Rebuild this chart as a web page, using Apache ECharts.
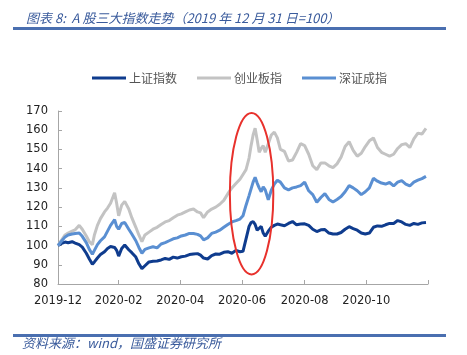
<!DOCTYPE html>
<html>
<head>
<meta charset="utf-8">
<script src="https://cdn.jsdelivr.net/npm/echarts@6/dist/echarts.min.js"></script>
<style>
html,body{margin:0;padding:0;background:#fff;}
#c{width:467px;height:355px;}
</style>
</head>
<body>
<div id="c"></div>
<script>
// days since 2019-12-31
const days = [0,3,7,10,14,17,21,24,28,31,34,36,39,42,46,49,52,56,58,60,63,66,70,73,77,80,83,86,90,94,98,102,106,110,114,118,122,126,130,134,138,141,144,148,152,156,160,164,168,172,176,180,183,186,189,191,193,195,197,199,201,203,205,208,211,214,217,220,224,228,232,236,240,244,248,252,256,260,264,268,272,276,280,284,288,292,296,300,304,308,312,316,320,324,328,332,336,340,344,348,352,356,360,364];

const shanghai = [100,101,101.8,101.5,102,101.3,100.5,99.2,96,93,
90.3,91.5,93.5,95.3,96.8,98.5,99.5,99,97.5,94.5,
98.5,100.3,97.8,96.3,94,90.5,88,89.5,91.5,91.8,
92,92.5,93.3,92.8,94,93.5,94.2,94.5,95.3,95.6,
95.8,95,93.5,93,94.8,95.6,95.5,96.5,96.8,96,
97.5,96.8,97,103.5,110,112,112.5,111,108,109,
110,106.5,104.8,107.5,109.5,110.5,111.2,110.8,110.3,111.5,
112.5,110.8,111.2,111.3,110.5,108.5,107.3,108.2,108.3,106.5,
106,106,106.8,108.5,109.8,108.8,108,106.5,106,106.5,
109.5,110.2,110,110.8,111.5,111.5,113,112.3,111,110.5,
111.5,111,111.8,112];

const chinext = [100,102.5,105.5,106.5,107.5,108.2,110.5,108.5,105,102,
100.5,105.5,110.5,114,117.5,119.5,122,127.5,122,115.5,
121,123,119,114.5,109.5,105.5,102,105.5,107,108.5,
109.5,111,112.3,113,114.5,115.8,116.5,117.5,118.5,119,
117.5,117,114.5,117.5,119,120,121.5,123.5,127,130,
132.3,134.5,137,139.5,145.5,152,157.5,161,155,148.5,
150.5,152,148.5,153,157.5,159,156,150,149,144,
144.5,148.5,153,152,147.5,141.5,139.5,143,143,141.5,
140.5,142.5,146,151.5,154,149.5,146.5,148,151.5,154.5,
156,151,148.5,147.5,146.5,147.5,150.5,152.5,153,151,
155.5,158.5,158,161];

const shenzhen = [100,102,104.5,105.5,106,106.3,106.5,104.8,101.5,98,
95.5,97.5,100.5,102.5,104.5,107.5,110.5,113.5,110,108.5,
111.5,112,108.5,106,102.5,99,96,98,98.8,99.4,
98.8,100.8,101.5,102.5,103.5,104,105,105.5,106.3,106.3,
105.8,105,103,104,106.3,107,108,109.5,111,112.3,
113,113.8,115.5,121,126,129.5,133,135.5,132.5,130,
128,130.5,129,123.8,128.8,132,134,133,130,129,
130,130.5,131.2,133,128.5,126.5,122.5,125,127,124,
122.7,124,125.5,128,131.2,130,128.5,126.5,128,130,
135,133.5,132.5,132,132.8,131,133,133.8,132,131,
133,134,134.8,136];

const seriesNames = ['上证指数', '创业板指', '深证成指'];
// x tick positions (days since 2019-12-31, month ends) and their labels
const tickDays = [0, 60, 121, 182, 244, 305, 366];
const tickLabels = ['2019-12', '2020-02', '2020-04', '2020-06', '2020-08', '2020-10', ''];
const yTicks = {min: 80, max: 170, step: 10};

const titleText = '图表 8:  A 股三大指数走势（2019 年 12 月 31 日=100）';
const sourceText = '资料来源：wind，国盛证券研究所';

// highlighted window (data units)
const highlight = {dayFrom: 170, dayTo: 213, valFrom: 85, valTo: 169};

const colors = ['#0f3c8e', '#c3c3c3', '#5a8fd2'];
const ruleColor = '#4a6fb0';
const pair = arr => arr.map((v, i) => [days[i], v]);

const chart = echarts.init(document.getElementById('c'), null, {renderer: 'canvas'});
const axisColor = '#a6a6a6';
const labelFont = {fontFamily: 'DejaVu Sans', fontSize: 11.5, color: '#222'};

chart.setOption({
  animation: false,
  backgroundColor: '#fff',
  title: {
    text: titleText,
    left: 21, top: 7,
    textStyle: {fontFamily: 'Noto Sans CJK SC', fontSize: 13, fontStyle: 'italic', fontWeight: 'normal', color: '#3a5b9c'}
  },
  legend: {
    left: 87, top: 67,
    itemWidth: 34, itemHeight: 3, itemGap: 20,
    icon: 'rect',
    data: seriesNames,
    textStyle: {fontFamily: 'Noto Sans CJK SC', fontSize: 12, color: '#555', padding: [0, 0, 0, -2]}
  },
  grid: {left: 58, right: 39, top: 111, bottom: 71},
  xAxis: {
    type: 'value', min: 0, max: 366,
    axisLine: {show: true, lineStyle: {color: axisColor, width: 1}},
    axisTick: {show: true, inside: true, length: 4, lineStyle: {color: axisColor}, customValues: tickDays},
    axisLabel: Object.assign({margin: 11, customValues: tickDays.slice(0, 6),
      formatter: v => tickLabels[tickDays.indexOf(v)] || ''}, labelFont),
    splitLine: {show: false}
  },
  yAxis: {
    type: 'value', min: yTicks.min, max: yTicks.max, interval: yTicks.step,
    axisLine: {show: true, lineStyle: {color: axisColor, width: 1}},
    axisTick: {show: true, inside: true, length: 4, lineStyle: {color: axisColor}},
    axisLabel: Object.assign({margin: 10}, labelFont),
    splitLine: {show: false}
  },
  series: [
    {name: seriesNames[0], type: 'line', data: pair(shanghai), showSymbol: false, lineStyle: {width: 3, color: colors[0]}, itemStyle: {color: colors[0]}},
    {name: seriesNames[1], type: 'line', data: pair(chinext), showSymbol: false, lineStyle: {width: 3, color: colors[1]}, itemStyle: {color: colors[1]}},
    {name: seriesNames[2], type: 'line', data: pair(shenzhen), showSymbol: false, lineStyle: {width: 3, color: colors[2]}, itemStyle: {color: colors[2]}}
  ]
});

const p1 = chart.convertToPixel({gridIndex: 0}, [highlight.dayFrom, highlight.valTo]);
const p2 = chart.convertToPixel({gridIndex: 0}, [highlight.dayTo, highlight.valFrom]);

chart.setOption({
  graphic: {elements: [
    {type: 'rect', id: 'topRule', z: 50, shape: {x: 13, y: 27, width: 433, height: 3}, style: {fill: ruleColor}},
    {type: 'rect', id: 'bottomRule', z: 50, shape: {x: 13, y: 334, width: 433, height: 3}, style: {fill: ruleColor}},
    {type: 'text', id: 'source', z: 50, x: 22, y: 337, style: {text: sourceText, font: 'italic 13px "Noto Sans CJK SC"', fill: '#3a5b9c'}},
    {type: 'ellipse', id: 'hl', z: 100,
      shape: {cx: (p1[0] + p2[0]) / 2, cy: (p1[1] + p2[1]) / 2, rx: Math.abs(p2[0] - p1[0]) / 2, ry: Math.abs(p2[1] - p1[1]) / 2},
      style: {stroke: '#e8312c', lineWidth: 2, fill: null}}
  ]}
});
</script>
</body>
</html>
